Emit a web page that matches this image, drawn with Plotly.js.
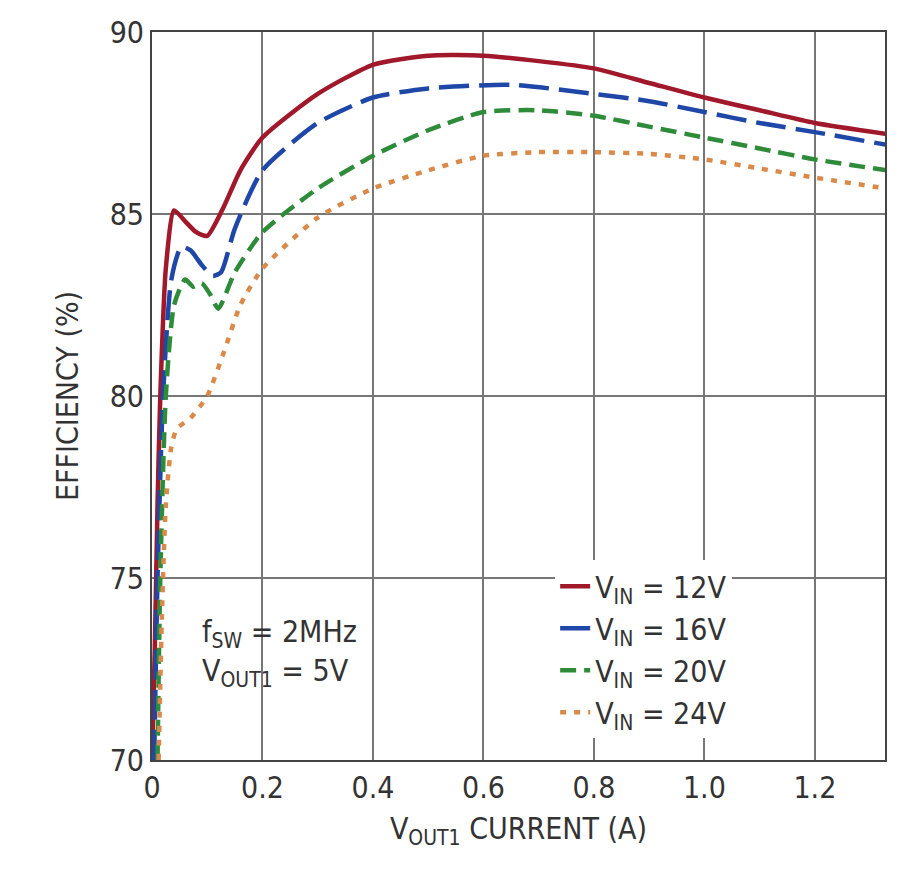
<!DOCTYPE html><html><head><script src="https://cdn.plot.ly/plotly-3.0.1.min.js"></script>
<style>body{margin:0;background:#fff}</style></head><body><div id="c" style="width:900px;height:893px"></div><script>
const x12=[0,0.005,0.01,0.015,0.025,0.04,0.06,0.08,0.1,0.13,0.16,0.2,0.3,0.4,0.5,0.6,0.7,0.8,0.9,1.0,1.1,1.2,1.33];
const y12=[70,73,77,80,83.5,85.1,84.8,84.5,84.4,85.2,86.2,87.1,88.3,89.1,89.35,89.35,89.2,89.0,88.6,88.2,87.85,87.5,87.2];
const x16=[0.004,0.01,0.02,0.035,0.053,0.07,0.09,0.11,0.125,0.15,0.2,0.3,0.4,0.5,0.65,0.8,0.9,1.0,1.1,1.2,1.33];
const y16=[70,75,80,83.2,84.1,84.0,83.6,83.3,83.4,84.6,86.2,87.5,88.2,88.45,88.55,88.3,88.1,87.8,87.5,87.25,86.9];
const x20=[0.01,0.015,0.025,0.04,0.06,0.075,0.09,0.105,0.12,0.15,0.2,0.3,0.4,0.5,0.6,0.7,0.8,0.9,1.0,1.1,1.2,1.33];
const y20=[70,75,80,82.5,83.2,83.0,83.1,82.8,82.4,83.4,84.5,85.7,86.6,87.3,87.8,87.85,87.7,87.4,87.1,86.8,86.5,86.2];
const x24=[0.012,0.018,0.025,0.035,0.045,0.07,0.1,0.13,0.16,0.2,0.3,0.4,0.5,0.6,0.7,0.8,0.9,1.0,1.1,1.2,1.33];
const y24=[70,74,77,78.6,79.1,79.4,80.0,81.2,82.5,83.5,84.9,85.7,86.2,86.6,86.7,86.7,86.65,86.5,86.25,86.0,85.7];
const names=['V<sub>IN</sub> = 12V','V<sub>IN</sub> = 16V','V<sub>IN</sub> = 20V','V<sub>IN</sub> = 24V'];
const cols=['#a0182a','#1f47a8','#2e8b3a','#d98a4a'];
const dashes=['solid','30px,10px','16px,8px','6px,8px'];
const xs=[x12,x16,x20,x24], ys=[y12,y16,y20,y24];
const data=xs.map((x,i)=>({x:x,y:ys[i],name:names[i],mode:'lines',line:{color:cols[i],width:4.5,dash:dashes[i],shape:'spline',smoothing:0.6}}));
const f={family:'DejaVu Sans Condensed, Liberation Sans Narrow, sans-serif',color:'#333',size:30};
Plotly.newPlot('c',data,{width:900,height:893,margin:{l:152,r:15,t:32,b:133},
paper_bgcolor:'#fff',plot_bgcolor:'#fff',font:f,showlegend:true,
legend:{x:0.55,y:0.03,xanchor:'left',yanchor:'bottom',bgcolor:'#fff',font:{...f,size:30},tracegroupgap:0,entrywidth:0},
xaxis:{range:[0,1.327],tickvals:[0,0.2,0.4,0.6,0.8,1.0,1.2],ticktext:['0','0.2','0.4','0.6','0.8','1.0','1.2'],showgrid:true,gridcolor:'#777',gridwidth:1.5,showline:true,linecolor:'#444',linewidth:2,mirror:true,zeroline:false,ticks:'',
title:{text:'V<sub>OUT1</sub> CURRENT (A)',font:f,standoff:14}},
yaxis:{range:[70,90],dtick:5,showgrid:true,gridcolor:'#777',gridwidth:1.5,showline:true,linecolor:'#444',linewidth:2,mirror:true,zeroline:false,ticks:'',
title:{text:'EFFICIENCY (%)',font:f,standoff:22}},
annotations:[{xref:'paper',yref:'paper',x:0.065,y:0.09,xanchor:'left',yanchor:'bottom',align:'left',showarrow:false,
text:'f<sub>SW</sub> = 2MHz<br>V<sub>OUT1</sub> = 5V',font:f}]
},{displayModeBar:false});
</script></body></html>
